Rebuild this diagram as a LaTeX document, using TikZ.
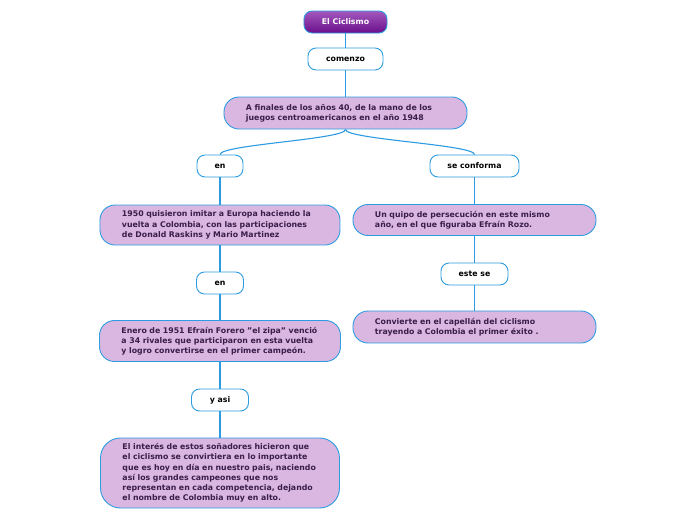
\documentclass[tikz,border=0pt]{standalone}
\usepackage{fontspec}
\setmainfont{DejaVu Sans}
\usepackage{tikz}
\usetikzlibrary{positioning}
\definecolor{mapblue}{HTML}{2D9BE1}
\definecolor{maplilac}{HTML}{D9B7E0}
\definecolor{mapink}{HTML}{3A1D4A}
\definecolor{roottop}{HTML}{A359BE}
\definecolor{rootbot}{HTML}{6A0E8A}
\tikzset{
    every node/.style={font=\fontsize{7.8}{10.2}\selectfont\bfseries}, % same font for every box
    rootbox/.style={draw=mapblue, line width=0.9pt, rounded corners=8pt, top color=roottop, bottom color=rootbot, text=white, minimum width=83pt, minimum height=22pt, inner sep=0pt},
    linkword/.style={draw=mapblue, line width=0.9pt, rounded corners=8pt, fill=white, text=black, minimum height=22pt, inner sep=0pt},
    idea/.style={draw=mapblue, line width=0.9pt, rounded corners=15pt, fill=maplilac, text=mapink, align=left, inner xsep=22pt, inner ysep=0pt},
    link/.style={draw=mapblue, line width=1.1pt}, % the connectors
}
\begin{document}
\begin{tikzpicture}[node distance=37pt]
    \useasboundingbox (-345.5pt,22pt) rectangle (350.5pt,-498pt);
    \node[rootbox] (root) at (0,0) {El Ciclismo};
    \node[linkword, below of=root, minimum width=75pt] (comenzo) {comenzo};
    \node[idea, below of=comenzo, node distance=54pt, text width=199pt, minimum height=32pt] (finales) {A finales de los años 40, de la mano de los\\juegos centroamericanos en el año 1948};
    \node[linkword, below of=finales, node distance=53pt, xshift=-125.5pt, minimum width=46pt] (en1) {en};
    \node[linkword, below of=finales, node distance=53pt, xshift=129pt, minimum width=89pt] (seconforma) {se conforma};

    % left branch
    \node[idea, below of=en1, node distance=59pt, text width=196pt, minimum height=40pt] (vuelta) {1950 quisieron imitar a Europa haciendo la\\vuelta a Colombia, con las participaciones\\de Donald Raskins y Mario Martinez};
    \node[linkword, below of=vuelta, node distance=58pt, minimum width=47pt] (en2) {en};
    \node[idea, below of=en2, node distance=58pt, text width=197pt, minimum height=41pt] (enero) {Enero de 1951 Efraín Forero \char34 el zipa\char34{} venció\\a 34 rivales que participaron en esta vuelta\\y logro convertirse en el primer campeón.};
    \node[linkword, below of=enero, node distance=59pt, minimum width=57pt] (yasi) {y asi};
    \node[idea, below of=yasi, node distance=73pt, text width=195pt, minimum height=70pt, rounded corners=20pt] (interes) {El interés de estos soñadores hicieron que\\el ciclismo se convirtiera en lo importante\\que es hoy en día en nuestro pais, naciendo\\así los grandes campeones que nos\\representan en cada competencia, dejando\\el nombre de Colombia muy en alto.};

    % right branch
    \node[idea, below of=seconforma, node distance=54pt, text width=199pt, minimum height=31pt] (quipo) {Un quipo de persecución en este mismo\\año, en el que figuraba Efraín Rozo.};
    \node[linkword, below of=quipo, node distance=54pt, minimum width=67pt] (estese) {este se};
    \node[idea, below of=estese, node distance=53pt, text width=199pt, minimum height=32pt] (capellan) {Convierte en el capellán del ciclismo\\trayendo a Colombia el primer éxito .};

    \draw[link] (root) -- (comenzo);
    \draw[link] (comenzo) -- (finales);
    \draw[link] (finales.south) .. controls +(0,-10pt) and +(0,10pt) .. (en1.north);
    \draw[link] (finales.south) .. controls +(0,-10pt) and +(0,10pt) .. (seconforma.north);
    \draw[link] (en1) -- (vuelta);
    \draw[link] (vuelta) -- (en2);
    \draw[link] (en2) -- (enero);
    \draw[link] (enero) -- (yasi);
    \draw[link] (yasi) -- (interes);
    \draw[link] (seconforma) -- (quipo);
    \draw[link] (quipo) -- (estese);
    \draw[link] (estese) -- (capellan);
\end{tikzpicture}
\end{document}
